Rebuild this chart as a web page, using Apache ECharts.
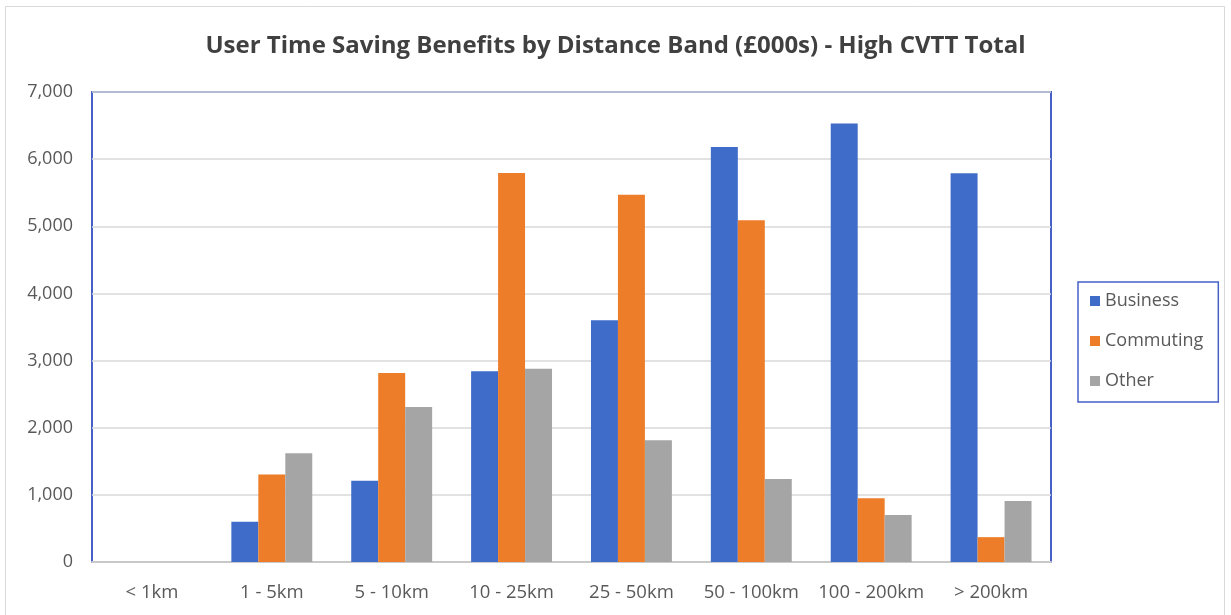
<!DOCTYPE html>
<html>
<head>
<meta charset="utf-8">
<style>
  html, body { margin: 0; padding: 0; background: #ffffff; }
  #chart { width: 1231px; height: 615px; }
</style>
<script src="https://cdn.jsdelivr.net/npm/echarts@6/dist/echarts.min.js"></script>
</head>
<body>
<div id="chart"></div>
<script>
// Distance bands and benefit values (£000s)
const distanceBands = ['< 1km', '1 - 5km', '5 - 10km', '10 - 25km', '25 - 50km', '50 - 100km', '100 - 200km', '> 200km'];
const businessValues = [0, 600, 1210, 2840, 3600, 6180, 6530, 5790];
const commutingValues = [0, 1305, 2815, 5795, 5470, 5090, 950, 370];
const otherValues = [0, 1620, 2310, 2880, 1815, 1235, 700, 910];
const yTicks = { min: 0, max: 7000, interval: 1000 };

const labelFont = "'Open Sans', 'Noto Sans', sans-serif";
const titleFont = "'Open Sans', sans-serif";
const textGrey = '#595959';
const frameBlue = '#4660c8';

const chart = echarts.init(document.getElementById('chart'), null, { renderer: 'canvas' });

const barStyle = (color) => ({
  type: 'bar',
  barWidth: '22.5%',
  barGap: '0%',
  itemStyle: { color: color },
  emphasis: { disabled: true }
});

chart.setOption({
  animation: false,
  backgroundColor: '#ffffff',
  title: {
    text: 'User Time Saving Benefits by Distance Band (£000s) - High CVTT Total',
    left: 'center',
    top: 29,
    textStyle: { fontFamily: titleFont, fontWeight: 'bold', fontSize: 24, color: '#404040' }
  },
  graphic: [{
    type: 'rect',
    shape: { x: 5.5, y: 6.5, width: 1219, height: 640 },
    style: { fill: 'none', stroke: '#d9d9d9', lineWidth: 1 },
    silent: true
  }],
  legend: {
    orient: 'vertical',
    left: 1078,
    top: 282,
    padding: [9, 15, 11, 12],
    borderColor: frameBlue,
    borderWidth: 1.5,
    icon: 'rect',
    itemWidth: 10,
    itemHeight: 10,
    itemGap: 20,
    itemTextGap: 6,
    textStyle: { fontFamily: labelFont, fontSize: 18, lineHeight: 20, color: textGrey },
    data: ['Business', 'Commuting', 'Other']
  },
  grid: {
    left: 92,
    right: 1231 - 1051,
    top: 92,
    bottom: 615 - 562,
    show: true,
    borderColor: frameBlue,
    borderWidth: 2,
    containLabel: false
  },
  xAxis: {
    type: 'category',
    data: distanceBands,
    axisTick: { show: false },
    axisLine: { lineStyle: { color: '#c8c8c8', width: 2 } },
    axisLabel: { fontFamily: labelFont, fontSize: 18.5, color: textGrey, margin: 21, interval: 0 },
    splitLine: { show: false }
  },
  yAxis: {
    type: 'value',
    min: yTicks.min,
    max: yTicks.max,
    interval: yTicks.interval,
    axisLine: { show: false },
    axisTick: { show: false },
    axisLabel: {
      fontFamily: labelFont, fontSize: 18, color: textGrey, margin: 19,
      formatter: (v) => v.toLocaleString('en-GB')
    },
    splitLine: { lineStyle: { color: '#d9d9d9', width: 1.5 } }
  },
  series: [
    Object.assign(barStyle('#3f6cc9'), { name: 'Business', data: businessValues }),
    Object.assign(barStyle('#ee7d2a'), { name: 'Commuting', data: commutingValues }),
    Object.assign(barStyle('#a5a5a5'), { name: 'Other', data: otherValues })
  ]
});
</script>
</body>
</html>
